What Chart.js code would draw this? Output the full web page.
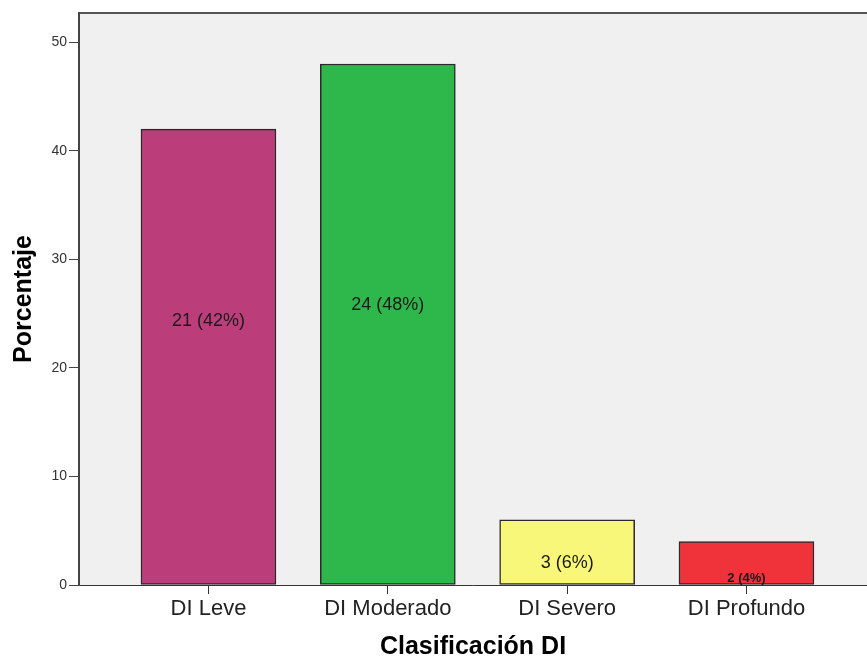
<!DOCTYPE html>
<html lang="es">
<head>
    <meta charset="UTF-8">
    <title>Clasificación DI</title>
    <style>
        body {
            margin: 0;
            background: #fff;
            font-family: "Liberation Sans", Arial, sans-serif;
        }
        #chart-container {
            width: 867px;
            height: 659px;
        }
    </style>
</head>
<body>
    <div id="chart-container">
        <canvas id="di-chart" width="867" height="659"></canvas>
    </div>

    <script src="https://cdn.jsdelivr.net/npm/chart.js"></script>
    <script>
        // datos
        const categories = ['DI Leve', 'DI Moderado', 'DI Severo', 'DI Profundo'];
        const counts = [21, 24, 3, 2];
        const percentages = [42, 48, 6, 4];
        const barColors = ['#bb3e7b', '#2eb84b', '#f9f77a', '#f0333b'];
        const yTicks = [0, 10, 20, 30, 40, 50];

        const font = '"Liberation Sans", Arial, sans-serif';

        // fondo gris del area y linea superior
        const plotFrame = {
            id: 'plotFrame',
            beforeDraw(chart) {
                const { ctx, chartArea: a } = chart;
                ctx.save();
                ctx.fillStyle = '#f0f0f0';
                ctx.fillRect(a.left, a.top, a.right - a.left, a.bottom - a.top);
                ctx.strokeStyle = '#555';
                ctx.lineWidth = 2;
                ctx.beginPath();
                ctx.moveTo(a.left, a.top);
                ctx.lineTo(a.right, a.top);
                ctx.stroke();
                ctx.restore();
            }
        };

        // etiquetas "n (p%)" dentro de las barras
        const barLabels = {
            id: 'barLabels',
            afterDatasetsDraw(chart, args, opts) {
                const { ctx, scales } = chart;
                ctx.save();
                ctx.textAlign = 'center';
                ctx.textBaseline = 'middle';
                ctx.fillStyle = '#1a1a1a';
                categories.forEach((c, i) => {
                    const x = scales.x.getPixelForValue(i);
                    const y = scales.y.getPixelForValue(opts.at[i]);
                    ctx.font = opts.fonts[i];
                    ctx.fillText(`${counts[i]} (${percentages[i]}%)`, x, y);
                });
                ctx.restore();
            }
        };

        new Chart(document.getElementById('di-chart'), {
            type: 'bar',
            data: {
                datasets: [{
                    data: percentages.map((v, i) => ({ x: i, y: v })),
                    backgroundColor: barColors,
                    borderColor: '#2a2a2a',
                    borderWidth: 1.5,
                    borderSkipped: false,
                    barThickness: 135
                }]
            },
            plugins: [plotFrame, barLabels],
            options: {
                responsive: false,
                animation: false,
                layout: { padding: { top: 13, left: 0, right: 0, bottom: 0 } },
                plugins: {
                    legend: { display: false },
                    tooltip: { enabled: false },
                    barLabels: {
                        at: [24.3, 25.8, 2.0, 0.6],
                        fonts: [`18px ${font}`, `18px ${font}`, `18px ${font}`, `bold 13px ${font}`]
                    }
                },
                scales: {
                    x: {
                        type: 'linear',
                        offset: false,
                        min: -0.722,
                        max: 3.672,
                        afterBuildTicks: s => { s.ticks = categories.map((_, i) => ({ value: i })); },
                        afterFit: s => { s.height = 74; },
                        ticks: {
                            callback: v => categories[v],
                            font: { family: font, size: 22 },
                            color: '#222',
                            padding: 2,
                            maxRotation: 0,
                            autoSkip: false
                        },
                        grid: { offset: false, drawOnChartArea: false, tickLength: 9, color: '#333' },
                        border: { color: '#333', width: 1 },
                        title: {
                            display: true,
                            text: 'Clasificación DI',
                            font: { family: font, size: 25, weight: 'bold' },
                            color: '#000',
                            padding: { top: 0, bottom: -3 }
                        }
                    },
                    y: {
                        min: 0,
                        max: 52.7,
                        afterBuildTicks: s => { s.ticks = yTicks.map(v => ({ value: v })); },
                        afterFit: s => { s.width = 79; },
                        ticks: {
                            font: { family: font, size: 14 },
                            color: '#333',
                            padding: 2
                        },
                        grid: { drawOnChartArea: false, tickLength: 10, color: '#444' },
                        border: { color: '#444', width: 2 },
                        title: {
                            display: true,
                            text: 'Porcentaje',
                            font: { family: font, size: 25, weight: 'bold' },
                            color: '#000',
                            padding: { top: 9, bottom: 0 }
                        }
                    }
                }
            }
        });
    </script>
</body>
</html>
